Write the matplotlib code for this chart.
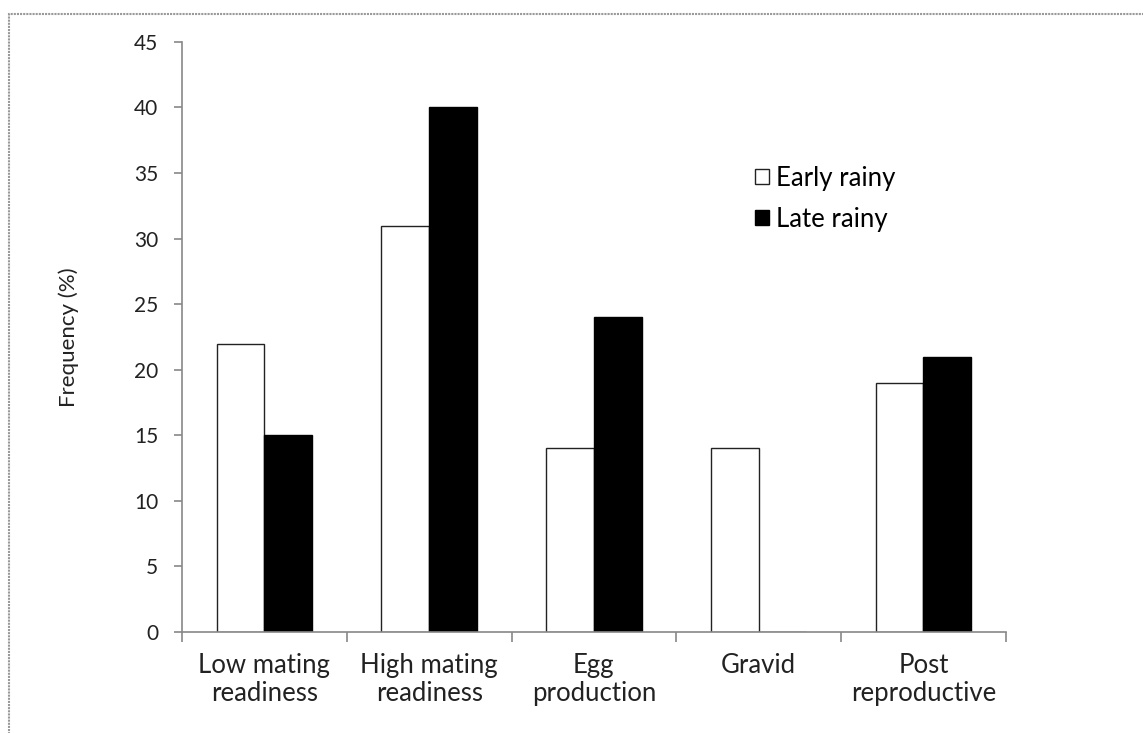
import numpy as np
import matplotlib.pyplot as plt
from matplotlib.patches import Rectangle

categories = ["Low mating\nreadiness", "High mating\nreadiness", "Egg\nproduction",
              "Gravid", "Post\nreproductive"]
early_rainy = [22, 31, 14, 14, 19]
late_rainy = [15, 40, 24, 0, 21]

plt.rcParams['font.family'] = ['Lato', 'DejaVu Sans']

fig = plt.figure(figsize=(11.43, 7.33), dpi=100)
ax = fig.add_axes([0.1592, 0.1378, 0.7208, 0.805])

# grey frame around the whole picture
fig.patches.append(Rectangle((9/1143, -0.1), 1.2, 1 - 14/733 + 0.1, transform=fig.transFigure,
                             fill=False, edgecolor="#999999", linewidth=1.5, linestyle=(0, (1, 0.5))))

x = np.arange(len(categories))
w = 0.29
ax.bar(x - w/2, early_rainy, w, color="white", edgecolor="#222222", linewidth=1, label="Early rainy")
ax.bar(x + w/2, late_rainy, w, color="black", edgecolor="black", linewidth=1, label="Late rainy")

ax.set_xlim(-0.5, len(categories) - 0.5)
ax.set_ylim(0, 45)
ax.set_yticks(range(0, 46, 5))
ax.set_xticks(x)
ax.set_xticklabels(categories, fontsize=18.5, color="#222222", linespacing=1.15)
ax.set_xticks(np.arange(-0.5, len(categories), 1), minor=True)
ax.tick_params(axis='x', which='major', length=0, pad=15)
ax.tick_params(axis='x', which='minor', length=7, color="#888888", width=1.2)
ax.tick_params(axis='y', length=6, color="#888888", width=1.2, labelsize=15, labelcolor="#222222", pad=11)

for s in ["top", "right"]:
    ax.spines[s].set_visible(False)
for s in ["left", "bottom"]:
    ax.spines[s].set_color("#888888")
    ax.spines[s].set_linewidth(1.2)

ax.set_ylabel("Frequency (%)", fontsize=16, color="#222222", labelpad=40)

ax.legend(loc="upper left", bbox_to_anchor=(0.695, 0.79), frameon=False, fontsize=18.5,
          borderpad=0, borderaxespad=0,
          handlelength=0.55, handleheight=0.55, handletextpad=0.3, labelspacing=0.62)

fig.savefig("out.png", dpi=100)
